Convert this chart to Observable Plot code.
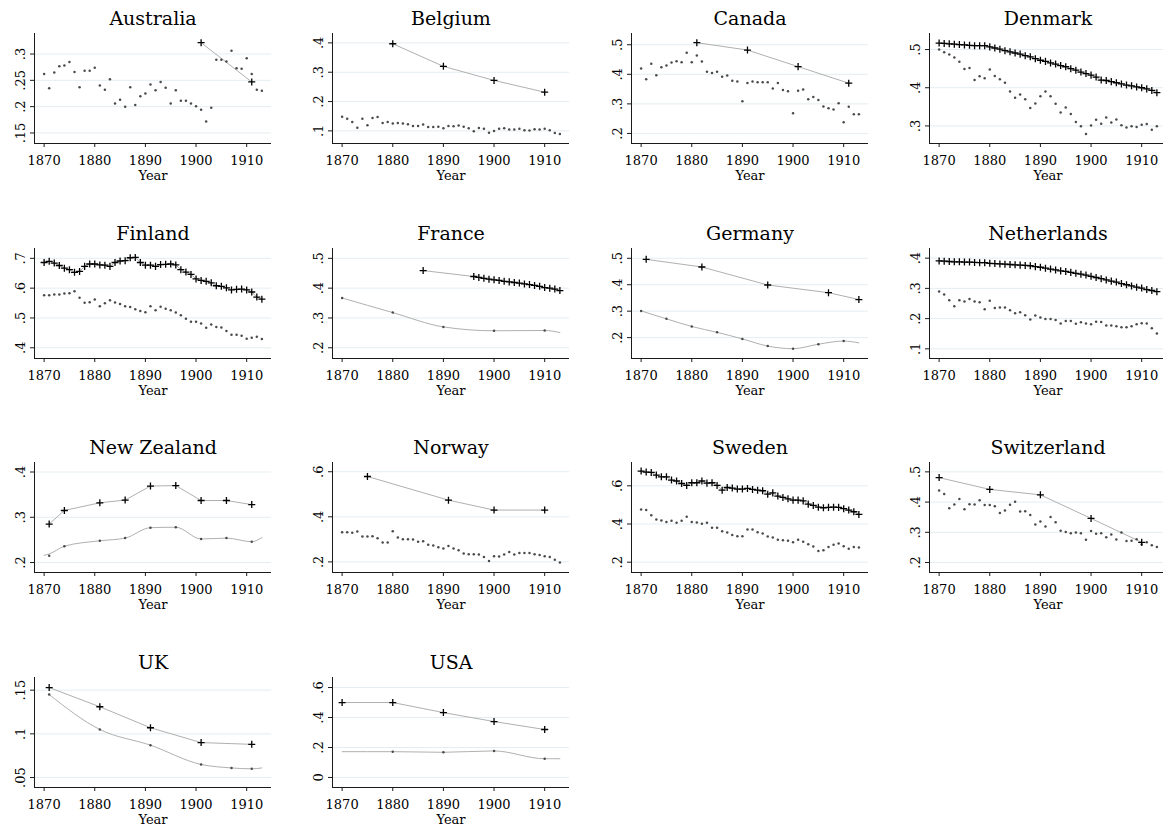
<!DOCTYPE html>
<html><head><meta charset="utf-8">
<script src="https://cdn.jsdelivr.net/npm/d3@7"></script>
<script src="https://cdn.jsdelivr.net/npm/@observablehq/plot@0.6"></script>
<style>
body{margin:0;background:#fff;overflow:hidden}
#wrap{position:relative;width:1163px;height:829px;overflow:hidden;background:#fff}
#wrap svg{position:absolute}
</style></head><body><div id="wrap"></div>
<script>
// ---------- data ----------
const years = d3.range(1870, 1914); // annual categories 1870..1913
const xTicks = [1870, 1880, 1890, 1900, 1910];

// Australia
const ausPlusYears = [1901, 1911];
const ausPlus = [0.3215, 0.247];
const ausDots = [.262,.235,.265,.277,.278,.285,.266,.237,.268,.268, .274,.240,.232,.252,.206,.213,.200,.237,.203,.220, .225,.242,.231,.247,.236,.206,.231,.211,.211,.206, .201,.194,.172,.198,.289,.289,.286,.306,.273,.272, .292,.262,.232,.230];
const ausTicks = [0.15, 0.2, 0.25, 0.3];

// Belgium
const belPlusYears = [1880, 1890, 1900, 1910];
const belPlus = [0.397, 0.320, 0.272, 0.232];
const belDots = [.148,.141,.130,.111,.141,.119,.144,.147,.127,.130, .125,.127,.125,.123,.117,.117,.122,.113,.113,.114, .109,.117,.116,.118,.114,.109,.099,.110,.107,.094, .100,.107,.109,.105,.105,.107,.102,.101,.106,.105, .107,.102,.093,.089];
const belTicks = [0.1, 0.2, 0.3, 0.4];

// Canada
const canPlusYears = [1881, 1891, 1901, 1911];
const canPlus = [0.507, 0.482, 0.426, 0.370];
const canDots = [.420,.383,.436,.397,.424,.430,.440,.444,.441,.473, .441,.464,.443,.409,.404,.409,.392,.396,.378,.376, .309,.371,.376,.373,.373,.373,.352,.371,.347,.343, .268,.344,.349,.316,.323,.313,.291,.285,.281,.302, .238,.290,.265,.265];
const canTicks = [0.2, 0.3, 0.4, 0.5];

// Denmark
const denPlus = [.517,.516,.515,.514,.513,.512,.511,.510,.510,.510, .507,.504,.501,.497,.494,.491,.488,.484,.481,.476, .472,.469,.465,.462,.458,.455,.450,.446,.441,.437, .433,.428,.420,.419,.416,.413,.410,.407,.405,.402, .400,.397,.393,.387];
const denDots = [.500,.493,.487,.479,.468,.449,.452,.420,.430,.425, .448,.431,.422,.413,.390,.374,.382,.370,.347,.359, .378,.390,.378,.358,.335,.348,.331,.310,.299,.279, .301,.316,.306,.322,.309,.317,.302,.296,.299,.297, .303,.305,.290,.299];
const denTicks = [0.3, 0.4, 0.5];

// Finland
const finPlus = [.686,.690,.684,.676,.667,.662,.653,.656,.673,.681, .681,.678,.677,.673,.686,.691,.692,.702,.703,.686, .677,.677,.673,.679,.680,.681,.678,.662,.654,.646, .631,.626,.623,.618,.608,.606,.601,.594,.596,.597, .594,.587,.570,.563];
const finDots = [.576,.576,.579,.579,.582,.583,.590,.568,.551,.553, .562,.539,.549,.559,.552,.547,.539,.537,.529,.523, .519,.539,.526,.538,.531,.526,.518,.509,.497,.487, .487,.481,.467,.478,.470,.468,.456,.444,.444,.440, .430,.434,.437,.429];
const finTicks = [0.4, 0.5, 0.6, 0.7];

// France
const fraPlusYears = [1886, 1896,1897,1898,1899,1900,1901,1902,1903,1904,1905,1906,1907,1908,1909,1910,1911,1912,1913];
const fraPlus = [0.459, .439,.436,.433,.430,.428,.426,.423,.421,.419,.417,.414,.412,.409,.406,.402,.400,.397,.392];
const fraDotYears = [1870, 1880, 1890, 1900, 1910];
const fraDots = [0.367, 0.318, 0.270, 0.257, 0.258];
const fraTrendYears = [1870, 1880, 1890, 1900, 1910, 1913];
const fraTrend = [0.367, 0.318, 0.270, 0.257, 0.258, 0.251];
const fraTicks = [0.2, 0.3, 0.4, 0.5];

// Germany
const gerPlusYears = [1871, 1882, 1895, 1907, 1913];
const gerPlus = [0.496, 0.467, 0.399, 0.370, 0.344];
const gerDotYears = [1870, 1875, 1880, 1885, 1890, 1895, 1900, 1905, 1910];
const gerDots = [0.301, 0.271, 0.242, 0.220, 0.195, 0.168, 0.158, 0.175, 0.187];
const gerTrendYears = [1870, 1875, 1880, 1885, 1890, 1895, 1900, 1905, 1910, 1913];
const gerTrend = [0.301, 0.271, 0.242, 0.220, 0.195, 0.168, 0.158, 0.175, 0.187, 0.180];
const gerTicks = [0.2, 0.3, 0.4, 0.5];

// Netherlands
const nldPlus = [.391,.390,.389,.388,.388,.387,.387,.386,.385,.385, .383,.382,.381,.380,.379,.378,.377,.376,.375,.372, .370,.367,.364,.361,.358,.356,.353,.350,.347,.344, .340,.336,.332,.328,.324,.321,.316,.312,.308,.304, .301,.296,.293,.289];
const nldDots = [.290,.280,.261,.241,.261,.257,.265,.257,.254,.231, .259,.235,.237,.237,.228,.218,.221,.211,.197,.210, .204,.199,.199,.195,.184,.192,.192,.183,.188,.184, .181,.190,.189,.177,.177,.175,.171,.171,.175,.181, .185,.184,.168,.151];
const nldTicks = [0.1, 0.2, 0.3, 0.4];

// New Zealand
const nzlYears = [1871, 1874, 1881, 1886, 1891, 1896, 1901, 1906, 1911];
const nzlPlus = [0.285, 0.315, 0.332, 0.338, 0.369, 0.370, 0.337, 0.337, 0.328];
const nzlDots = [0.215, 0.236, 0.248, 0.254, 0.277, 0.278, 0.252, 0.254, 0.246];
const nzlTrendYears = [1870, 1871, 1874, 1881, 1886, 1891, 1896, 1901, 1906, 1911, 1913];
const nzlTrend = [0.216, 0.219, 0.236, 0.248, 0.254, 0.277, 0.278, 0.252, 0.254, 0.246, 0.255];
const nzlTicks = [0.2, 0.3, 0.4];

// Norway
const norPlusYears = [1875, 1891, 1900, 1910];
const norPlus = [0.579, 0.474, 0.430, 0.430];
const norDots = [.332,.332,.329,.335,.313,.313,.314,.305,.286,.286, .336,.308,.301,.301,.299,.289,.292,.276,.273,.265, .259,.271,.259,.252,.237,.234,.234,.233,.222,.204, .225,.224,.233,.244,.233,.239,.239,.239,.234,.231, .225,.222,.210,.197];
const norTicks = [0.2, 0.4, 0.6];

// Sweden
const swePlus = [.677,.672,.670,.656,.647,.647,.630,.625,.612,.602, .616,.616,.625,.614,.616,.602,.577,.591,.588,.583, .583,.586,.581,.577,.574,.556,.563,.546,.539,.532, .525,.525,.521,.504,.497,.488,.485,.487,.488,.487, .480,.473,.464,.450];
const sweDots = [.476,.473,.446,.424,.418,.410,.417,.406,.417,.438, .411,.408,.401,.406,.380,.380,.362,.355,.343,.336, .336,.371,.371,.357,.350,.335,.329,.317,.315,.312, .305,.317,.307,.294,.282,.258,.263,.280,.291,.298, .284,.270,.279,.277];
const sweTicks = [0.2, 0.4, 0.6];

// Switzerland
const chePlusYears = [1870, 1880, 1890, 1900, 1910];
const chePlus = [0.481, 0.442, 0.424, 0.346, 0.267];
const cheDots = [.438,.427,.380,.392,.410,.376,.393,.392,.406,.390, .390,.386,.364,.372,.391,.401,.369,.370,.357,.326, .336,.319,.351,.333,.305,.301,.297,.299,.297,.275, .304,.295,.297,.284,.293,.276,.299,.271,.272,.277, .260,.267,.257,.251];
const cheTicks = [0.2, 0.3, 0.4, 0.5];

// UK
const gbrPlusYears = [1871, 1881, 1891, 1901, 1911];
const gbrPlus = [0.153, 0.131, 0.107, 0.090, 0.088];
const gbrDotYears = [1871, 1881, 1891, 1901, 1907, 1911];
const gbrDots = [0.145, 0.105, 0.087, 0.065, 0.061, 0.060];
const gbrTrendYears = [1871, 1881, 1891, 1901, 1907, 1911, 1913];
const gbrTrend = [0.145, 0.105, 0.087, 0.065, 0.061, 0.060, 0.061];
const gbrTicks = [0.05, 0.1, 0.15];

// USA
const usaPlusYears = [1870, 1880, 1890, 1900, 1910];
const usaPlus = [0.500, 0.500, 0.433, 0.373, 0.320];
const usaDotYears = [1880, 1890, 1900, 1910];
const usaDots = [0.172, 0.168, 0.177, 0.125];
const usaTrendYears = [1870, 1880, 1890, 1900, 1910, 1913];
const usaTrend = [0.172, 0.172, 0.168, 0.177, 0.125, 0.125];
const usaTicks = [0, 0.2, 0.4, 0.6];

// ---------- panel configuration ----------
const panels = [
  {name: "Australia", plus: [ausPlusYears, ausPlus], dots: [years, ausDots], ticks: ausTicks, yDomain: [0.130, 0.339]},
  {name: "Belgium", plus: [belPlusYears, belPlus], dots: [years, belDots], ticks: belTicks, yDomain: [0.057, 0.432]},
  {name: "Canada", plus: [canPlusYears, canPlus], dots: [years, canDots], ticks: canTicks, yDomain: [0.166, 0.538]},
  {name: "Denmark", plus: [years, denPlus], dots: [years, denDots], ticks: denTicks, yDomain: [0.254, 0.542]},
  {name: "Finland", plus: [years, finPlus], dots: [years, finDots], ticks: finTicks, yDomain: [0.364, 0.733]},
  {name: "France", plus: [fraPlusYears, fraPlus], dots: [fraDotYears, fraDots], trend: [fraTrendYears, fraTrend], ticks: fraTicks, yDomain: [0.164, 0.533]},
  {name: "Germany", plus: [gerPlusYears, gerPlus], dots: [gerDotYears, gerDots], trend: [gerTrendYears, gerTrend], ticks: gerTicks, yDomain: [0.121, 0.537]},
  {name: "Netherlands", plus: [years, nldPlus], dots: [years, nldDots], ticks: nldTicks, yDomain: [0.068, 0.432]},
  {name: "New Zealand", plus: [nzlYears, nzlPlus], dots: [nzlYears, nzlDots], trend: [nzlTrendYears, nzlTrend], ticks: nzlTicks, yDomain: [0.178, 0.421]},
  {name: "Norway", plus: [norPlusYears, norPlus], dots: [years, norDots], ticks: norTicks, yDomain: [0.153, 0.641]},
  {name: "Sweden", plus: [years, swePlus], dots: [years, sweDots], ticks: sweTicks, yDomain: [0.146, 0.722]},
  {name: "Switzerland", plus: [chePlusYears, chePlus], dots: [years, cheDots], ticks: cheTicks, yDomain: [0.167, 0.531]},
  {name: "UK", plus: [gbrPlusYears, gbrPlus], dots: [gbrDotYears, gbrDots], trend: [gbrTrendYears, gbrTrend], ticks: gbrTicks, yDomain: [0.0386, 0.1645]},
  {name: "USA", plus: [usaPlusYears, usaPlus], dots: [usaDotYears, usaDots], trend: [usaTrendYears, usaTrend], ticks: usaTicks, yDomain: [-0.067, 0.667]}
];

// ---------- layout & style ----------
const axisLeft = [34, 332, 631, 929];
const plotTop = [33, 248, 462, 677];
const mL = 34, mR = 6, mT = 33, mB = 50, plotW = 237, plotH = 110;
const xDomain = [1868.1, 1914.9];
const gridColor = "#e4edf1";
const lineColor = "#b0b0b0";
const fmtY = d => d === 0 ? "0" : String(d).replace(/^0\./, ".").replace(/^-0\./, "-.");
const toRows = ([xs, ys]) => xs.map((x, i) => ({x, y: ys[i]}));

const wrap = document.getElementById("wrap");
panels.forEach((p, i) => {
  const col = i % 4, row = Math.floor(i / 4);
  const plusRows = toRows(p.plus);
  const dotRows = toRows(p.dots);
  const marks = [
    Plot.gridY(p.ticks, {stroke: gridColor, strokeOpacity: 1, strokeWidth: 1}),
    Plot.ruleX([xDomain[0]], {stroke: "#1a1a1a", strokeWidth: 1}),
    Plot.ruleY([p.yDomain[0]], {stroke: "#1a1a1a", strokeWidth: 1}),
    Plot.axisX(xTicks, {tickSize: 4, tickPadding: 8, tickFormat: d => String(d), label: null, stroke: "#1a1a1a"}),
    Plot.axisY(p.ticks, {tickSize: 4, tickPadding: 6, tickRotate: -90, tickFormat: fmtY, label: null, stroke: "#1a1a1a"}),
  ];
  if (p.trend) marks.push(Plot.line(toRows(p.trend), {x: "x", y: "y", curve: "monotone-x", stroke: lineColor, strokeWidth: 1}));
  marks.push(
    Plot.line(plusRows, {x: "x", y: "y", curve: "linear", stroke: lineColor, strokeWidth: 1}),
    Plot.dot(dotRows, {x: "x", y: "y", r: 1.25, fill: "#4a4a4a", stroke: "none"}),
    Plot.dot(plusRows, {x: "x", y: "y", symbol: "plus", r: 2.4, stroke: "#000", strokeWidth: 1.3, fill: "none"}),
    Plot.text([p.name], {text: d => d, frameAnchor: "top", lineAnchor: "middle", dy: -15, fontSize: 19, fill: "#000"}),
    Plot.text(["Year"], {text: d => d, frameAnchor: "bottom", lineAnchor: "middle", dy: 32, fontSize: 13, fill: "#000"})
  );
  const svg = Plot.plot({
    width: mL + plotW + mR,
    height: mT + plotH + mB,
    marginLeft: mL, marginRight: mR, marginTop: mT, marginBottom: mB,
    x: {domain: xDomain, label: null},
    y: {domain: p.yDomain, label: null},
    style: {fontFamily: "'DejaVu Serif', serif", fontSize: "13px", color: "#000", background: "transparent", overflow: "visible"},
    marks
  });
  svg.style.left = (axisLeft[col] - mL) + "px";
  svg.style.top = (plotTop[row] - mT) + "px";
  wrap.appendChild(svg);
});
</script>
</body></html>
